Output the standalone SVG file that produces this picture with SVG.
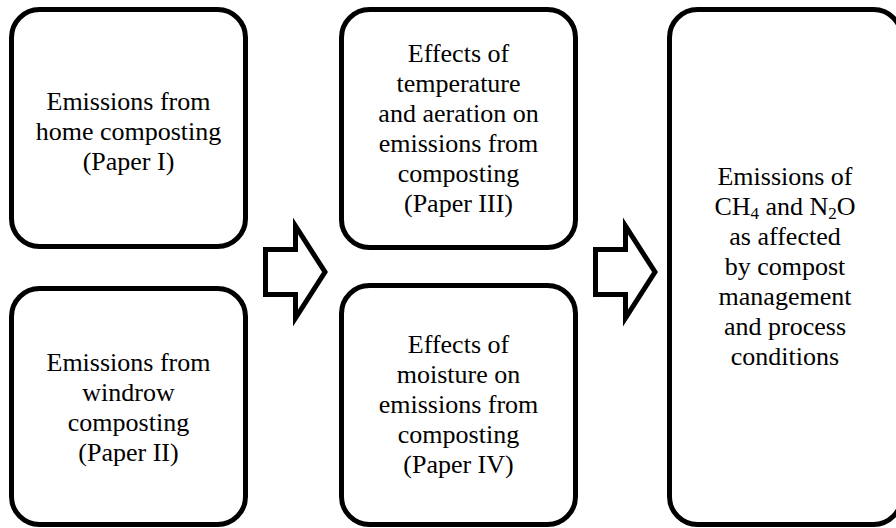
<svg xmlns="http://www.w3.org/2000/svg" width="896" height="528" viewBox="0 0 896 528">
<style>
.box{fill:#fff;stroke:#000;stroke-width:5}
.arr{fill:#fff;stroke:#000;stroke-width:5;stroke-linejoin:miter}
text{font-family:"Liberation Serif","Times New Roman",serif;font-size:26px;fill:#000;text-anchor:middle}
.sub{font-size:17px}
</style>
<rect width="896" height="528" fill="#fff"/>
<g id="connectors">
<polygon class="arr" points="265.5,249.5 295.5,249.5 295.5,226 325,272 295.5,318 295.5,294.5 265.5,294.5"/>
<polygon class="arr" points="595.5,249.5 625.5,249.5 625.5,226 655,272 625.5,318 625.5,294.5 595.5,294.5"/>
</g>
<g id="n1">
<rect class="box" x="11.5" y="9.5" width="234" height="237" rx="28"/>
<text x="128.5" y="110">Emissions from</text>
<text x="128.5" y="140">home composting</text>
<text x="128.5" y="170">(Paper I)</text>
</g>
<g id="n2">
<rect class="box" x="11.5" y="288.5" width="234" height="236" rx="28"/>
<text x="128.5" y="371">Emissions from</text>
<text x="128.5" y="401">windrow</text>
<text x="128.5" y="431">composting</text>
<text x="128.5" y="461">(Paper II)</text>
</g>
<g id="n3">
<rect class="box" x="341.5" y="9.5" width="234" height="238" rx="28"/>
<text x="458.5" y="62">Effects of</text>
<text x="458.5" y="92">temperature</text>
<text x="458.5" y="122">and aeration on</text>
<text x="458.5" y="152">emissions from</text>
<text x="458.5" y="182">composting</text>
<text x="458.5" y="212">(Paper III)</text>
</g>
<g id="n4">
<rect class="box" x="341.5" y="285.5" width="234" height="239" rx="28"/>
<text x="458.5" y="353">Effects of</text>
<text x="458.5" y="383">moisture on</text>
<text x="458.5" y="413">emissions from</text>
<text x="458.5" y="443">composting</text>
<text x="458.5" y="473">(Paper IV)</text>
</g>
<g id="n5">
<rect class="box" x="669.5" y="9.5" width="232" height="515" rx="28"/>
<text x="785" y="185">Emissions of</text>
<text x="785" y="215">CH<tspan class="sub" dy="4">4</tspan><tspan dy="-4"> and N</tspan><tspan class="sub" dy="4">2</tspan><tspan dy="-4">O</tspan></text>
<text x="785" y="245">as affected</text>
<text x="785" y="275">by compost</text>
<text x="785" y="305">management</text>
<text x="785" y="335">and process</text>
<text x="785" y="365">conditions</text>
</g>
</svg>
